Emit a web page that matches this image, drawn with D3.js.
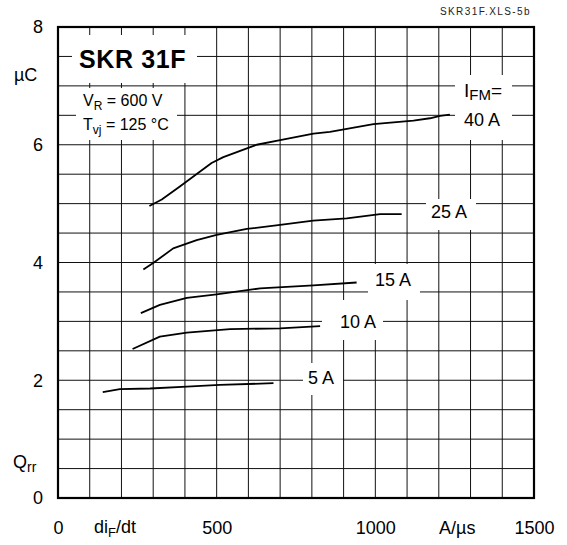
<!DOCTYPE html>
<html>
<head>
<meta charset="utf-8">
<script src="https://cdn.jsdelivr.net/npm/d3@7"></script>
<style>
  body { margin: 0; background: #fff; }
  svg { display: block; font-family: "Liberation Sans", Arial, sans-serif; }
</style>
</head>
<body>
<div id="graphic"></div>
<script>
// Qrr = f(diF/dt) pour plusieurs IFM - SKR 31F

// Ticks des axes
const xTicks = [0, 500, 1000, 1500];
const yTicks = [0, 2, 4, 6, 8];

// Courbes (diF/dt en A/us, Qrr en uC)
const rate40 = [288, 327, 384, 484, 521, 626, 700, 805, 857, 994, 1120, 1172, 1204, 1235];
const qrr40  = [4.96, 5.07, 5.29, 5.69, 5.79, 6.00, 6.08, 6.19, 6.22, 6.35, 6.41, 6.45, 6.49, 6.51];
const rate25 = [269, 300, 363, 437, 500, 595, 700, 804, 910, 1015, 1083];
const qrr25  = [3.88, 3.99, 4.24, 4.38, 4.47, 4.57, 4.64, 4.71, 4.75, 4.82, 4.82];
const rate15 = [261, 321, 406, 500, 637, 805, 941];
const qrr15  = [3.14, 3.28, 3.40, 3.46, 3.56, 3.61, 3.66];
const rate10 = [235, 321, 406, 542, 700, 826];
const qrr10  = [2.53, 2.74, 2.81, 2.87, 2.88, 2.92];
const rate5  = [141, 195, 290, 406, 510, 679];
const qrr5   = [1.80, 1.85, 1.86, 1.89, 1.92, 1.95];

const courbes = [
  {nom: "40 A", x: rate40, y: qrr40},
  {nom: "25 A", x: rate25, y: qrr25},
  {nom: "15 A", x: rate15, y: qrr15},
  {nom: "10 A", x: rate10, y: qrr10},
  {nom: "5 A",  x: rate5,  y: qrr5}
];

let cadre = d3.select("#graphic")
  .append("svg")
  .attr("width", 567)
  .attr("height", 545);

// Zone du graphique
const gauche = 58, droite = 534, haut = 27, bas = 498;

let x = d3.scaleLinear().domain([0, 1500]).range([gauche, droite]);
let y = d3.scaleLinear().domain([0, 8]).range([bas, haut]);

// Grille
let grille = cadre.append("g").attr("stroke", "#111").attr("stroke-width", 1);
grille.selectAll(".gv")
  .data(d3.range(100, 1500, 100))
  .enter().append("line")
  .attr("x1", d => x(d)).attr("x2", d => x(d))
  .attr("y1", haut).attr("y2", bas);
grille.selectAll(".gh")
  .data(d3.range(0.5, 8, 0.5))
  .enter().append("line")
  .attr("x1", gauche).attr("x2", droite)
  .attr("y1", d => y(d)).attr("y2", d => y(d));

// Fonds blancs des étiquettes (cachent la grille)
const fonds = [
  [72, 35, 125, 48],   // SKR 31F
  [76, 88, 101, 52],   // VR / Tvj
  [455, 75, 57, 65],   // IFM= 40 A
  [426, 199, 50, 31],  // 25 A
  [368, 264, 52, 36],  // 15 A
  [322, 300, 61, 40],  // 10 A
  [303, 363, 40, 32]   // 5 A
];
cadre.append("g").selectAll("rect")
  .data(fonds)
  .enter().append("rect")
  .attr("x", d => d[0]).attr("y", d => d[1])
  .attr("width", d => d[2]).attr("height", d => d[3])
  .attr("fill", "#fff");

// Courbes
let ligne = d3.line()
  .x(d => x(d[0]))
  .y(d => y(d[1]));

cadre.append("g").selectAll("path")
  .data(courbes)
  .enter().append("path")
  .attr("d", d => ligne(d.x.map((v, i) => [v, d.y[i]])))
  .attr("fill", "none")
  .attr("stroke", "#000")
  .attr("stroke-width", 1.8)
  .attr("stroke-linejoin", "round");

// Cadre
cadre.append("rect")
  .attr("x", gauche).attr("y", haut)
  .attr("width", droite - gauche).attr("height", bas - haut)
  .attr("fill", "none").attr("stroke", "#000").attr("stroke-width", 2.2);

// Axes (seulement les libellés)
let axeX = d3.axisBottom(x).tickValues(xTicks).tickFormat(d3.format("d")).tickSize(0).tickPadding(0);
cadre.append("g")
  .attr("transform", `translate(0, ${bas + 23})`)
  .call(axeX)
  .call(g => g.select(".domain").remove())
  .selectAll("text")
  .attr("font-size", 18).attr("font-family", "Liberation Sans, Arial, sans-serif").attr("fill", "#000");

let axeY = d3.axisLeft(y).tickValues(yTicks).tickFormat(d3.format("d")).tickSize(0).tickPadding(0);
cadre.append("g")
  .attr("transform", "translate(43, 0)")
  .call(axeY)
  .call(g => g.select(".domain").remove())
  .selectAll("text")
  .attr("font-size", 18).attr("font-family", "Liberation Sans, Arial, sans-serif").attr("fill", "#000");

// Textes
let txt = (px, py, s, taille, extra) => {
  let t = cadre.append("text").attr("x", px).attr("y", py)
    .attr("font-size", taille).attr("fill", "#000").text(s);
  if (extra) extra(t);
  return t;
};

txt(14, 81, "µC", 18);
let q = txt(13, 468, "Q", 18);
q.append("tspan").attr("font-size", 14).attr("dy", 4).text("rr");

let dx = txt(94, 533, "di", 18);
dx.append("tspan").attr("font-size", 13).attr("dy", 4).text("F");
dx.append("tspan").attr("dy", -4).text("/dt");
txt(439, 534, "A/µs", 18);

txt(531, 15, "SKR31F.XLS-5b", 10, t => t.attr("text-anchor", "end").attr("letter-spacing", 1.4).attr("fill", "#222"));

txt(79, 68, "SKR 31F", 25, t => t.attr("font-weight", "bold").attr("letter-spacing", 0.6));

let vr = txt(83, 106, "V", 16);
vr.append("tspan").attr("font-size", 12).attr("dy", 4).text("R");
vr.append("tspan").attr("dy", -4).text(" = 600 V");
let tvj = txt(83, 130, "T", 16);
tvj.append("tspan").attr("font-size", 12).attr("dy", 4).text("vj");
tvj.append("tspan").attr("dy", -4).text(" = 125 °C");

let ifm = txt(464, 97, "I", 19);
ifm.append("tspan").attr("font-size", 15).attr("dy", 3).text("FM");
ifm.append("tspan").attr("dy", -3).text("=");

txt(464, 126, "40 A", 18);
txt(431, 218, "25 A", 18);
txt(375, 286, "15 A", 18);
txt(340, 328, "10 A", 18);
txt(308, 384, "5 A", 18);
</script>
</body>
</html>
